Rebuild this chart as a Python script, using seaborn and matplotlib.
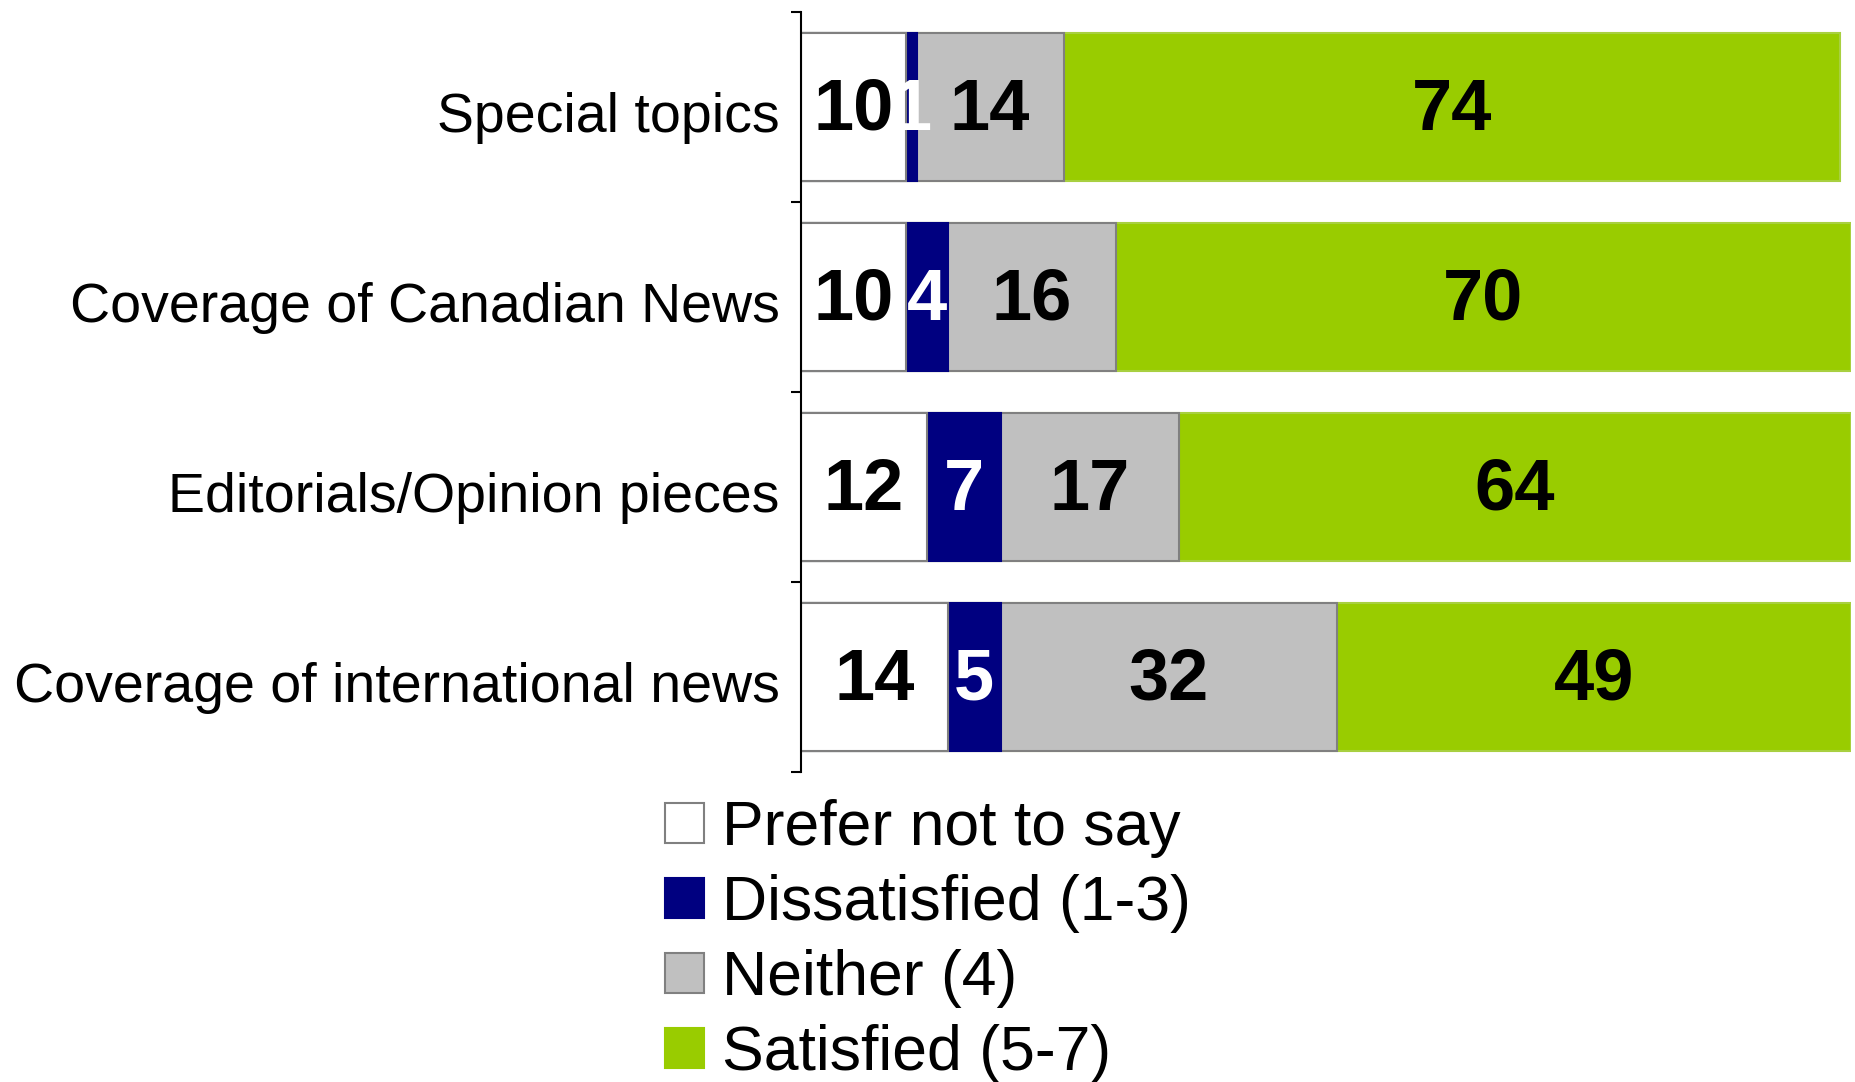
import numpy as np
import pandas as pd
import matplotlib
matplotlib.use("Agg")
import matplotlib.pyplot as plt
from matplotlib.patches import Patch
from matplotlib.transforms import ScaledTranslation
import seaborn as sns

# Survey items (top to bottom) and response shares (%)
items = [
    "Special topics",
    "Coverage of Canadian News",
    "Editorials/Opinion pieces",
    "Coverage of international news",
]
prefer_not = [10, 10, 12, 14]
dissatisfied = [1, 4, 7, 5]
neither = [14, 16, 17, 32]
satisfied = [74, 70, 64, 49]

series_names = ["Prefer not to say", "Dissatisfied (1-3)", "Neither (4)", "Satisfied (5-7)"]
series_values = [prefer_not, dissatisfied, neither, satisfied]
fills = ["#FFFFFF", "#000080", "#C0C0C0", "#99CC00"]
edges = ["#808080", "#000080", "#808080", "#A8D040"]
label_colors = ["black", "white", "black", "black"]

sns.set_style("white")
plt.rcParams["font.family"] = ["Liberation Sans", "DejaVu Sans"]
plt.rcParams["text.color"] = "black"
plt.rcParams["ytick.labelcolor"] = "black"

fig = plt.figure(figsize=(18.56, 10.82), dpi=100)
ax = fig.add_axes([0.4316, 0.2865, 0.5657, 0.7024])

vals = np.array(series_values, dtype=float)
lefts = np.vstack([np.zeros(len(items)), np.cumsum(vals, axis=0)[:-1]])
rights = np.cumsum(vals, axis=0)

# Stack by overlaying cumulative totals, widest first
for k in reversed(range(len(series_names))):
    df = pd.DataFrame({"item": items, "end": rights[k]})
    sns.barplot(data=df, x="end", y="item", order=items, orient="h",
                color=fills[k], edgecolor=edges[k], linewidth=1.5,
                width=0.775, saturation=1, ax=ax, errorbar=None)

# Segment value labels
digit_shift = ScaledTranslation(0, -3.5 / 100, fig.dpi_scale_trans)
for k in range(len(series_names)):
    for i in range(len(items)):
        cx = lefts[k, i] + vals[k, i] / 2
        ax.text(cx, i, f"{int(vals[k, i])}", ha="center", va="center",
                fontsize=52, fontweight="bold", color=label_colors[k],
                transform=ax.transData + digit_shift)

ax.set_xlim(0, 100)
ax.set_ylim(len(items) - 0.5, -0.5)
ax.set_xlabel("")
ax.set_ylabel("")
ax.set_xticks([])

for side in ["top", "right", "bottom"]:
    ax.spines[side].set_visible(False)
ax.spines["left"].set_color("black")
ax.spines["left"].set_linewidth(1.5)

ax.set_yticks(range(len(items)))
ax.set_yticklabels(items, fontsize=40, color="black")
ax.tick_params(axis="y", which="major", length=0, pad=15.5)
shift = ScaledTranslation(0, -5 / 100, fig.dpi_scale_trans)
for lab in ax.get_yticklabels():
    lab.set_transform(lab.get_transform() + shift)
ax.set_yticks(np.arange(-0.5, len(items), 1.0), minor=True)
ax.tick_params(axis="y", which="minor", length=7.5, width=1.5, color="black",
               direction="out", left=True)

handles = [Patch(facecolor=f, edgecolor=e, linewidth=1.5) for f, e in zip(fills, edges)]
handles[3] = Patch(facecolor=fills[3], edgecolor=fills[3], linewidth=1.5)
fig.legend(handles, series_names, loc="upper left",
           bbox_to_anchor=(665 / 1856, 1 - 799 / 1082),
           frameon=False, fontsize=45, borderpad=0, borderaxespad=0,
           handlelength=0.62, handleheight=0.62, handletextpad=0.3,
           labelspacing=0.255)

fig.savefig("out.png", dpi=100)
